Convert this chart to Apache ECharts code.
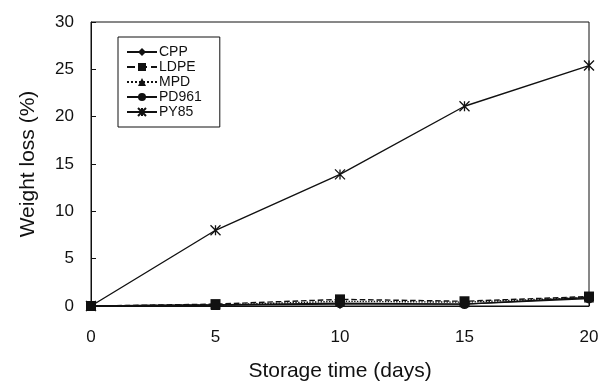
<!DOCTYPE html>
<html>
<head>
<meta charset="utf-8">
<script src="https://cdn.jsdelivr.net/npm/echarts@6/dist/echarts.min.js"></script>
<style>
  html, body { margin: 0; padding: 0; background: #fff; }
  #chart { width: 609px; height: 387px; }
</style>
</head>
<body>
<div id="chart"></div>
<script>
// Storage time (days) and weight loss (%) per packaging film
const days = [0, 5, 10, 15, 20];
const seriesNames = ['CPP', 'LDPE', 'MPD', 'PD961', 'PY85'];
const cpp   = [0, 0.1, 0.2, 0.2, 0.9];
const ldpe  = [0, 0.2, 0.7, 0.5, 1.0];
const mpd   = [0, 0.1, 0.5, 0.4, 0.9];
const pd961 = [0, 0.1, 0.3, 0.2, 0.8];
const py85  = [0, 8.0, 13.9, 21.1, 25.4];
const xTicks = [0, 5, 10, 15, 20];
const yTicks = [0, 5, 10, 15, 20, 25, 30];

const font = "'Liberation Sans', Arial, sans-serif";
const ink = '#111';

// asterisk marker: an x with a vertical stroke
const asterisk = 'path://M0,0L10,10M10,0L0,10M5,0L5,10';

function pairs(ys) { return days.map((d, i) => [d, ys[i]]); }

const styles = [
  { data: cpp,   symbol: 'diamond',  size: 10, dash: 'solid' },
  { data: ldpe,  symbol: 'rect',     size: 10, dash: 'dashed' },
  { data: mpd,   symbol: 'triangle', size: 10, dash: 'dotted' },
  { data: pd961, symbol: 'circle',   size: 10, dash: 'solid' },
  { data: py85,  symbol: asterisk,   size: 10, dash: 'solid' }
];

const chart = echarts.init(document.getElementById('chart'), null, { renderer: 'canvas' });
chart.setOption({
  animation: false,
  backgroundColor: '#fff',
  textStyle: { fontFamily: font, color: ink },
  grid: {
    left: 91, right: 20, top: 22, bottom: 80,
    show: true, borderColor: ink, borderWidth: 1, backgroundColor: 'transparent'
  },
  legend: {
    orient: 'vertical',
    left: 118, top: 37,
    data: seriesNames,
    itemWidth: 30, itemHeight: 10, itemGap: 1,
    padding: [8, 18, 8, 8],
    borderColor: ink, borderWidth: 1,
    textStyle: { fontFamily: font, fontSize: 14, color: ink, padding: [0, 0, 0, -3] }
  },
  xAxis: {
    type: 'value', min: 0, max: 20, interval: 5,
    name: 'Storage time (days)', nameLocation: 'middle', nameGap: 55,
    nameTextStyle: { fontFamily: font, fontSize: 21, color: ink },
    axisLine: { show: true, onZero: false, lineStyle: { color: ink, width: 1 } },
    axisTick: { show: true, inside: true, length: 5, lineStyle: { color: ink } },
    axisLabel: {
      fontFamily: font, fontSize: 17, color: ink, margin: 23,
      formatter: v => xTicks.includes(v) ? String(v) : ''
    },
    splitLine: { show: false }
  },
  yAxis: {
    type: 'value', min: 0, max: 30, interval: 5,
    name: 'Weight loss (%)', nameLocation: 'middle', nameGap: 52,
    nameTextStyle: { fontFamily: font, fontSize: 21, color: ink },
    axisLine: { show: true, lineStyle: { color: ink, width: 1 } },
    axisTick: { show: true, inside: true, length: 5, lineStyle: { color: ink } },
    axisLabel: {
      fontFamily: font, fontSize: 17, color: ink, margin: 17,
      formatter: v => yTicks.includes(v) ? String(v) : ''
    },
    splitLine: { show: false }
  },
  series: styles.map((s, i) => ({
    name: seriesNames[i],
    type: 'line',
    data: pairs(s.data),
    symbol: s.symbol,
    symbolSize: s.size,
    showAllSymbol: true,
    lineStyle: { color: ink, width: 1.4, type: s.dash },
    itemStyle: { color: ink, borderColor: ink, borderWidth: i === 4 ? 1.3 : 0 },
    z: 2 + i
  }))
});
</script>
</body>
</html>
